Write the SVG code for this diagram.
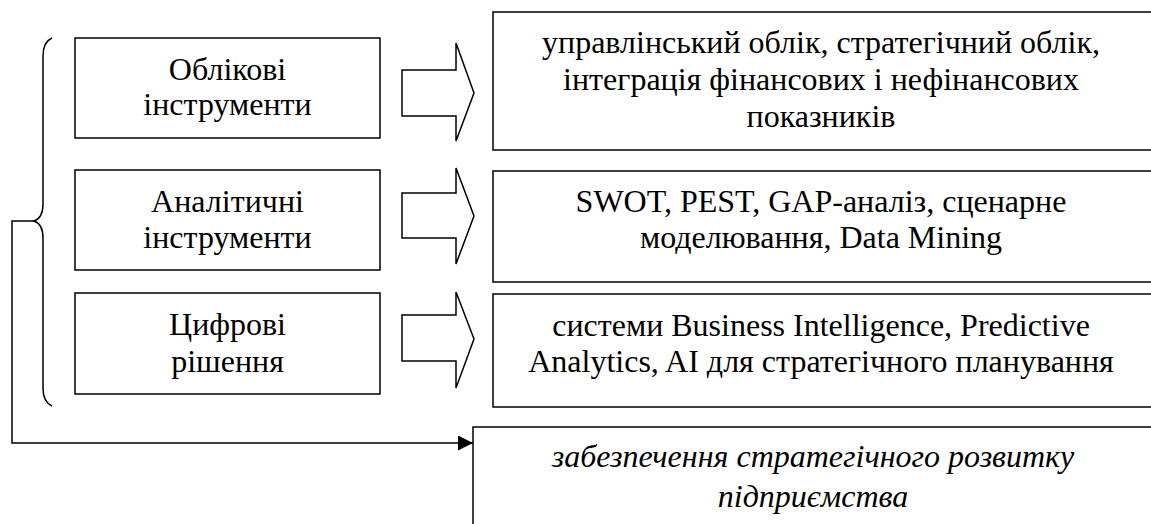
<svg xmlns="http://www.w3.org/2000/svg" width="1151" height="524" viewBox="0 0 1151 524">
  <style>
    .box { fill: #fff; stroke: #000; stroke-width: 1.5; }
    .blk { fill: #fff; stroke: #000; stroke-width: 1.5; stroke-linejoin: miter; }
    .line { fill: none; stroke: #000; stroke-width: 1.5; }
    .lbl { font-family: 'Liberation Serif', serif; font-size: 32px; fill: #000; text-anchor: middle; }
    .it { font-style: italic; }
  </style>
  <defs>
    <marker id="arrow" markerWidth="16" markerHeight="16" refX="15" refY="7.5" orient="auto" markerUnits="userSpaceOnUse">
      <path d="M0,0 L15,7.5 L0,15 Z" fill="#000"/>
    </marker>
  </defs>
  <rect width="1151" height="524" fill="#fff"/>

  <!-- left column: instrument groups -->
  <g id="node-oblikovi">
    <rect class="box" x="75" y="38" width="305" height="100"/>
    <text class="lbl" x="227.5" y="80">Облікові</text>
    <text class="lbl" x="227.5" y="115">інструменти</text>
  </g>
  <g id="node-analitychni">
    <rect class="box" x="75" y="170" width="305" height="100"/>
    <text class="lbl" x="227.5" y="212">Аналітичні</text>
    <text class="lbl" x="227.5" y="248">інструменти</text>
  </g>
  <g id="node-tsyfrovi">
    <rect class="box" x="75" y="293" width="305" height="101"/>
    <text class="lbl" x="227.5" y="335">Цифрові</text>
    <text class="lbl" x="227.5" y="372">рішення</text>
  </g>

  <!-- right column: contents of each group -->
  <g id="node-oblik-content">
    <rect class="box" x="493" y="12" width="662" height="138"/>
    <text class="lbl" x="821" y="53">управлінський облік, стратегічний облік,</text>
    <text class="lbl" x="821" y="90">інтеграція фінансових і нефінансових</text>
    <text class="lbl" x="821" y="127">показників</text>
  </g>
  <g id="node-analiz-content">
    <rect class="box" x="493" y="171" width="662" height="111"/>
    <text class="lbl" x="821" y="212">SWOT, PEST, GAP-аналіз, сценарне</text>
    <text class="lbl" x="821" y="248">моделювання, Data Mining</text>
  </g>
  <g id="node-digital-content">
    <rect class="box" x="493" y="294" width="662" height="113"/>
    <text class="lbl" x="821" y="336">системи Business Intelligence, Predictive</text>
    <text class="lbl" x="821" y="372">Analytics, AI для стратегічного планування</text>
  </g>

  <!-- result -->
  <g id="node-result">
    <rect class="box" x="473" y="427" width="682" height="110"/>
    <text class="lbl it" x="813" y="467">забезпечення стратегічного розвитку</text>
    <text class="lbl it" x="813" y="507">підприємства</text>
  </g>

  <!-- connectors -->
  <g id="connectors">
    <!-- block arrows -->
    <path class="blk" d="M402,70 H456 V43 L474,93 L456,141 V116 H402 Z"/>
    <path class="blk" d="M402,193 H456 V168 L474,216 L456,264 V238 H402 Z"/>
    <path class="blk" d="M402,315 H456 V292 L474,339 L456,388 V361 H402 Z"/>
    <!-- curly brace grouping the instruments -->
    <path class="line" d="M52,38 C45,41 43,47 43,56 V204 C43,214 40,219 34,221 C40,223 43,228 43,238 V388 C43,397 45,403 52,406"/>
    <!-- link from brace to result -->
    <path class="line" d="M34,221 H12 V443 H473" marker-end="url(#arrow)"/>
  </g>
</svg>
